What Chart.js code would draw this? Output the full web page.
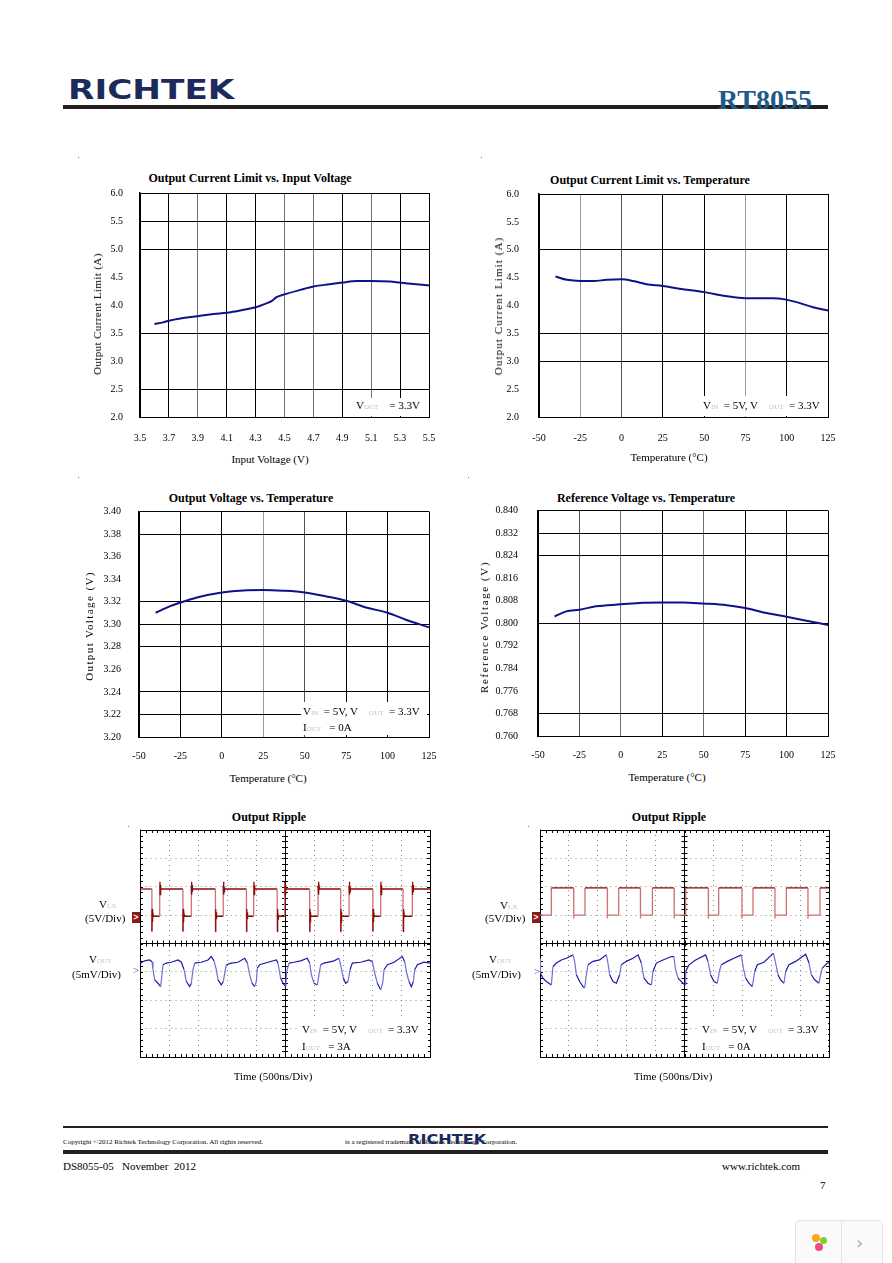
<!DOCTYPE html>
<html>
<head>
<meta charset="utf-8">
<script src="https://cdn.jsdelivr.net/npm/chart.js@4.4.1/dist/chart.umd.min.js"></script>
<style>
body{margin:0;width:892px;height:1263px;background:#fff;position:relative;overflow:hidden;font-family:"Liberation Serif","Times New Roman",serif;color:#000;}
.abs{position:absolute;white-space:nowrap;}
canvas{position:absolute;}
.ttl{position:absolute;white-space:nowrap;font-weight:bold;font-size:12px;transform:translate(-50%,-50%);}
.xt{position:absolute;white-space:nowrap;font-size:11px;transform:translate(-50%,-50%);}
.yt{position:absolute;white-space:nowrap;font-size:11px;transform:translate(-50%,-50%) rotate(-90deg);}
.note{position:absolute;white-space:nowrap;background:#fff;font-size:11px;line-height:13.5px;}
.sub{color:#c4c4c4;font-size:7px;}
.sc{position:absolute;white-space:nowrap;font-size:11px;line-height:14px;}
.mk{position:absolute;width:8px;height:11px;background:#8b1a1a;color:#fff;font:bold 9px "Liberation Sans",sans-serif;line-height:11px;text-align:center;}
.logo{position:absolute;white-space:nowrap;font-family:"DejaVu Sans","Liberation Sans",sans-serif;font-weight:bold;color:#1c2b5c;transform-origin:left center;}
.bar{position:absolute;background:#231f20;}
.dot{position:absolute;width:1px;height:1px;background:#777;}
</style>
</head>
<body>

<!-- header -->
<div class="logo" style="left:68px;top:76px;font-size:27px;line-height:28px;transform:scaleX(1.27);">RICHTEK</div>
<div class="bar" style="left:63px;top:105px;width:765px;height:4px;"></div>
<div class="abs" style="left:718px;top:86px;font-size:28px;line-height:28px;font-weight:bold;color:#1e5a8a;">RT8055</div>

<div class="dot" style="left:78px;top:157px"></div>
<div class="dot" style="left:481px;top:157px"></div>
<div class="dot" style="left:78px;top:477px"></div>
<div class="dot" style="left:468px;top:477px"></div>
<div class="dot" style="left:128px;top:826px"></div>
<div class="dot" style="left:528px;top:826px"></div>

<!-- chart 1 -->
<div class="ttl" style="left:250px;top:178px;">Output Current Limit vs. Input Voltage</div>
<canvas id="c1" width="345" height="270" style="left:100px;top:183px;"></canvas>
<div class="yt" style="left:97px;top:314px;letter-spacing:0.4px;">Output Current Limit (A)</div>
<div class="xt" style="left:270px;top:459px;">Input Voltage (V)</div>
<div class="note" style="left:344px;top:398px;width:84px;height:18px;padding:0;"><span style="position:absolute;left:12px;top:1px;">V<span class="sub">OUT</span>&nbsp;&nbsp;&nbsp; = 3.3V</span></div>

<!-- chart 2 -->
<div class="ttl" style="left:650px;top:180px;">Output Current Limit vs. Temperature</div>
<canvas id="c2" width="345" height="270" style="left:495px;top:184px;"></canvas>
<div class="yt" style="left:498px;top:306px;letter-spacing:1.1px;">Output Current Limit (A)</div>
<div class="xt" style="left:669px;top:457px;">Temperature (°C)</div>
<div class="note" style="left:700px;top:396px;width:127px;height:20px;"><span style="position:absolute;left:3px;top:3px;">V<span class="sub">IN</span>&nbsp; = 5V, V&nbsp;&nbsp;&nbsp;&nbsp;<span class="sub">OUT</span>&nbsp;&nbsp;= 3.3V</span></div>

<!-- chart 3 -->
<div class="ttl" style="left:251px;top:498px;">Output Voltage vs. Temperature</div>
<canvas id="c3" width="345" height="270" style="left:95px;top:501px;"></canvas>
<div class="yt" style="left:89px;top:626px;letter-spacing:1.4px;">Output Voltage (V)</div>
<div class="xt" style="left:268px;top:778px;">Temperature (°C)</div>
<div class="note" style="left:301px;top:702px;width:126px;height:33px;"><div style="position:absolute;left:2px;top:3px;">V<span class="sub">IN</span>&nbsp; = 5V, V&nbsp;&nbsp;&nbsp;&nbsp;<span class="sub">OUT</span>&nbsp;&nbsp;= 3.3V<br>I<span class="sub">OUT</span>&nbsp;&nbsp;&nbsp;= 0A</div></div>

<!-- chart 4 -->
<div class="ttl" style="left:646px;top:498px;">Reference Voltage vs. Temperature</div>
<canvas id="c4" width="350" height="270" style="left:490px;top:500px;"></canvas>
<div class="yt" style="left:484px;top:627px;letter-spacing:1.6px;">Reference Voltage (V)</div>
<div class="xt" style="left:667px;top:777px;">Temperature (°C)</div>

<!-- chart 5 -->
<div class="ttl" style="left:269px;top:817px;">Output Ripple</div>
<canvas id="c5" width="294" height="235" style="left:140px;top:826px;"></canvas>
<div class="sc" style="left:99px;top:897px;">V<span class="sub">LX</span></div>
<div class="sc" style="left:85px;top:911px;">(5V/Div)</div>
<div class="mk" style="left:132px;top:912px;">&gt;</div>
<div class="sc" style="left:89px;top:952px;">V<span class="sub">OUT</span></div>
<div class="sc" style="left:72px;top:967px;">(5mV/Div)</div>
<div class="sc" style="left:133px;top:963px;color:#4040d0;">&gt;</div>
<div class="note" style="left:299px;top:1020px;width:129px;height:34px;"><div style="position:absolute;left:3px;top:2px;line-height:15px;">V<span class="sub">IN</span>&nbsp; = 5V, V&nbsp;&nbsp;&nbsp;&nbsp;<span class="sub">OUT</span>&nbsp;&nbsp;= 3.3V<br>I<span class="sub">OUT</span>&nbsp;&nbsp;&nbsp;= 3A</div></div>
<div class="xt" style="left:273px;top:1076px;">Time (500ns/Div)</div>

<!-- chart 6 -->
<div class="ttl" style="left:669px;top:817px;">Output Ripple</div>
<canvas id="c6" width="293" height="235" style="left:540px;top:826px;"></canvas>
<div class="sc" style="left:500px;top:898px;">V<span class="sub">LX</span></div>
<div class="sc" style="left:485px;top:911px;">(5V/Div)</div>
<div class="mk" style="left:532px;top:912px;">&gt;</div>
<div class="sc" style="left:489px;top:952px;">V<span class="sub">OUT</span></div>
<div class="sc" style="left:472px;top:967px;">(5mV/Div)</div>
<div class="sc" style="left:534px;top:964px;color:#4040d0;">&gt;</div>
<div class="note" style="left:699px;top:1020px;width:129px;height:34px;"><div style="position:absolute;left:3px;top:2px;line-height:15px;">V<span class="sub">IN</span>&nbsp; = 5V, V&nbsp;&nbsp;&nbsp;&nbsp;<span class="sub">OUT</span>&nbsp;&nbsp;= 3.3V<br>I<span class="sub">OUT</span>&nbsp;&nbsp;&nbsp;= 0A</div></div>
<div class="xt" style="left:673px;top:1076px;">Time (500ns/Div)</div>

<!-- footer -->
<div class="bar" style="left:63px;top:1126px;width:765px;height:2px;"></div>
<div class="abs" style="left:63px;top:1138px;font-size:7px;line-height:9px;">Copyright ©2012 Richtek Technology Corporation. All rights reserved.</div>
<div class="abs" style="left:345px;top:1138px;font-size:7px;line-height:9px;">is a registered trademark of Richtek Technology Corporation.</div>
<div class="logo" style="left:408px;top:1132px;font-size:14px;line-height:15px;transform:scaleX(1.15);">RICHTEK</div>
<div class="bar" style="left:63px;top:1150px;width:765px;height:4px;"></div>
<div class="abs" style="left:63px;top:1159px;font-size:11px;line-height:14px;">DS8055-05&nbsp;&nbsp; November&nbsp; 2012</div>
<div class="abs" style="left:722px;top:1159px;font-size:11px;line-height:14px;">www.richtek.com</div>
<div class="abs" style="left:820px;top:1178px;font-size:11px;line-height:14px;">7</div>

<div class="abs" style="left:795px;top:1220px;width:86px;height:46px;border:1px solid #e4e4e4;border-radius:5px;background:#fafafa;"></div>
<div class="abs" style="left:841px;top:1221px;width:1px;height:42px;background:#e4e4e4;"></div>
<div class="abs" style="left:812px;top:1234px;width:8px;height:8px;border-radius:50%;background:#f5a623;"></div>
<div class="abs" style="left:820px;top:1237px;width:7px;height:7px;border-radius:50%;background:#7ed321;"></div>
<div class="abs" style="left:815px;top:1243px;width:8px;height:8px;border-radius:50%;background:#e84c8a;"></div>
<div class="abs" style="left:856px;top:1232px;font:18px 'DejaVu Sans',sans-serif;color:#aaa;">›</div>

<script>
// Output Current Limit vs. Input Voltage
const vinV = [3.60, 3.66, 3.70, 3.78, 3.90, 4.01, 4.10, 4.21, 4.30, 4.375, 4.41, 4.445, 4.50, 4.61, 4.70, 4.81, 4.90, 5.00, 5.10, 5.23, 5.30, 5.41, 5.50];
const ilimVin = [3.66, 3.69, 3.72, 3.76, 3.80, 3.84, 3.86, 3.91, 3.96, 4.03, 4.07, 4.14, 4.19, 4.27, 4.33, 4.37, 4.40, 4.43, 4.43, 4.42, 4.40, 4.37, 4.35];

// Output Current Limit vs. Temperature
const tempIlim = [-40, -33, -25, -17, -9, 0, 7, 15, 25, 35, 50, 63, 75, 84, 92, 99, 106, 116, 125];
const ilimTemp = [4.52, 4.46, 4.44, 4.44, 4.46, 4.47, 4.44, 4.38, 4.35, 4.30, 4.24, 4.17, 4.13, 4.13, 4.13, 4.11, 4.06, 3.97, 3.91];

// Output Voltage vs. Temperature
const tempVout = [-40, -31.5, -25, -15, 0, 13, 25, 37, 50, 63, 75, 87, 100, 111, 125];
const voutTemp = [3.3102, 3.3158, 3.3193, 3.3238, 3.3282, 3.3300, 3.3303, 3.3297, 3.3282, 3.3247, 3.3208, 3.3149, 3.3102, 3.3040, 3.2972];

// Reference Voltage vs. Temperature
const tempVref = [-40, -33, -25, -15, 0, 13, 25, 37.5, 50, 64, 75, 88, 100, 112, 125];
const vrefTemp = [0.8024, 0.8042, 0.8048, 0.8060, 0.8067, 0.8073, 0.8074, 0.8074, 0.8070, 0.8064, 0.8054, 0.8036, 0.8023, 0.8009, 0.7994];

// Output Ripple, IOUT = 3A (time in ns, VLX in V, VOUT ripple in mV)
const lxFallA = [205, 740, 1300, 1835, 2365, 2925, 3460, 4015, 4535];
const lxRiseA = [340, 885, 1435, 1960, 2495, 3070, 3605, 4150, 4695];
const lxLevelsA = { high: 4.6, low: -0.2, dip: -2.9, peak: 5.2, startHigh: true };
const ringA = [1.3, -1.0, 0.7, -0.5, 0.3];
const rippleTA = [0, 11, 80, 167, 207, 224, 253, 310, 356, 379, 397, 454, 540, 655, 713, 759, 799, 856, 885, 914, 943, 1057, 1172, 1230, 1276, 1316, 1345, 1402, 1437, 1471, 1488, 1575, 1690, 1805, 1851, 1891, 1931, 1977, 2006, 2023, 2063, 2207, 2350, 2379, 2425, 2465, 2512, 2529, 2569, 2655, 2770, 2885, 2925, 2954, 3000, 3058, 3086, 3115, 3173, 3345, 3431, 3471, 3506, 3546, 3586, 3621, 3661, 3805, 3949, 4006, 4046, 4092, 4150, 4184, 4207, 4265, 4380, 4523, 4563, 4598, 4638, 4678, 4713, 4736, 4782, 4897, 5000];
const rippleA = [1.4, 1.55, 1.95, 2.1, 1.8, 0.4, -1.4, -2.0, -2.6, -0.5, 1.25, 1.55, 1.7, 2.1, 1.7, 0.4, -1.7, -2.6, -2.0, 0.4, 1.55, 1.7, 2.1, 2.7, 1.95, 0.4, -1.4, -2.3, -1.7, 0.4, 1.25, 1.55, 1.7, 2.4, 1.55, -0.5, -2.0, -2.6, -1.7, 0.65, 1.25, 1.7, 2.1, 1.55, -1.1, -2.0, -2.6, 0.07, 1.55, 1.7, 1.95, 2.4, 1.55, -0.5, -2.0, -2.3, -0.5, 1.25, 1.55, 1.95, 2.4, 0.65, -1.1, -2.0, -1.7, 0.37, 1.55, 1.7, 2.1, 1.8, -0.2, -2.0, -3.15, -2.0, 0.37, 1.25, 1.7, 2.7, 1.8, -0.2, -1.7, -2.6, -1.7, 0.37, 1.25, 1.7, 1.55];

// Output Ripple, IOUT = 0A
const lxFallB = [582, 1165, 1737, 2320, 2912, 3494, 4065, 4636];
const lxRiseB = [196, 778, 1361, 1945, 2520, 3091, 3685, 4262, 4844];
const lxLevelsB = { high: 4.8, low: 0, dip: -0.6, peak: 4.8, startHigh: false };
const ringB = [];
const rippleTB = [0, 8, 52, 110, 196, 225, 283, 369, 456, 571, 600, 629, 686, 744, 773, 802, 830, 917, 1032, 1148, 1176, 1205, 1263, 1321, 1378, 1407, 1494, 1609, 1696, 1753, 1799, 1868, 1926, 1955, 2013, 2128, 2272, 2318, 2341, 2387, 2474, 2514, 2520, 2578, 2693, 2866, 2906, 2952, 3010, 3068, 3102, 3137, 3241, 3356, 3483, 3518, 3558, 3616, 3673, 3714, 3760, 3875, 4037, 4071, 4117, 4163, 4221, 4250, 4308, 4423, 4596, 4654, 4694, 4752, 4827, 4855, 4884, 4971, 5000];
const rippleB = [2.4, -0.3, -1.1, -1.7, -2.3, 0.95, 1.55, 2.1, 2.4, 3.0, 1.85, -0.5, -1.7, -2.6, -2.85, -0.5, 1.25, 1.85, 2.1, 3.0, 1.55, -0.5, -1.7, -2.0, -0.5, 1.25, 1.85, 2.4, 3.0, 1.55, -1.1, -2.0, -2.3, 0.07, 1.55, 2.1, 2.7, 2.7, 0.65, -1.1, -2.0, -2.3, 0.07, 1.25, 2.1, 3.0, 1.85, -0.5, -1.7, -2.0, 0.07, 1.25, 1.85, 2.4, 3.0, 0.65, -1.1, -2.0, -2.6, 0.07, 1.25, 1.7, 3.3, 1.85, -0.5, -1.4, -2.0, 0.07, 1.25, 1.85, 3.1, 1.55, -0.5, -1.4, -2.0, -0.5, 0.65, 1.55, 1.6];

const K = '#000', G = '#707070', LG = '#9a9a9a', DG = '#505050';
const NAVY = '#10108a';
const tickFont = { family: 'Liberation Serif', size: 10 };

// gridline colours keyed by tick label (scanned charts skip some lines)
const gridCol = (map, dec) => c => {
    if (!c.tick) return K;
    return map[c.tick.value.toFixed(dec)] || 'rgba(0,0,0,0)';
};

const xyChart = (id, xs, ys, o) => new Chart(document.getElementById(id), {
    type: 'line',
    data: {
        datasets: [{
            data: xs.map((x, i) => ({ x, y: ys[i] })),
            borderColor: NAVY, borderWidth: 2, pointRadius: 0,
            cubicInterpolationMode: 'monotone'
        }]
    },
    options: {
        responsive: false, animation: false, events: [],
        layout: { padding: { top: o.padTop, right: o.padRight, left: 0, bottom: 0 } },
        plugins: { legend: { display: false }, tooltip: { enabled: false } },
        scales: {
            x: {
                type: 'linear', min: o.x[0], max: o.x[1],
                afterFit: s => { s.height = o.xH; s.paddingLeft = 0; s.paddingRight = 0; },
                ticks: { stepSize: o.x[2], autoSkip: false, maxRotation: 0, padding: o.xPad, font: tickFont, color: K,
                    callback: v => v.toFixed(o.x[3]) },
                grid: { drawTicks: false, color: gridCol(o.xGrid, o.x[3]) },
                border: { color: K }
            },
            y: {
                type: 'linear', min: o.y[0], max: o.y[1],
                afterFit: s => { s.width = o.yW; s.paddingTop = 0; s.paddingBottom = 0; },
                ticks: { stepSize: o.y[2], autoSkip: false, padding: o.yPad, font: tickFont, color: K,
                    callback: v => v.toFixed(o.y[3]) },
                grid: { drawTicks: false, color: gridCol(o.yGrid, o.y[3]) },
                border: { color: K, width: 1.5 }
            }
        }
    }
});

xyChart('c1', vinV, ilimVin, {
    x: [3.5, 5.5, 0.2, 1], y: [2, 6, 0.5, 1], yW: 40, xH: 36, padTop: 10, padRight: 16, xPad: 15, yPad: 17,
    xGrid: { '3.5': K, '3.7': K, '3.9': G, '4.1': K, '4.3': K, '4.5': G, '4.7': G, '4.9': K, '5.1': G, '5.3': K, '5.5': K },
    yGrid: { '2.0': K, '2.5': K, '3.5': K, '5.0': K, '5.5': K, '6.0': K }
});
xyChart('c2', tempIlim, ilimTemp, {
    x: [-50, 125, 25, 0], y: [2, 6, 0.5, 1], yW: 44, xH: 37, padTop: 10, padRight: 12, xPad: 15, yPad: 20,
    xGrid: { '-50': K, '-25': LG, '0': DG, '25': K, '50': K, '75': LG, '100': K, '125': K },
    yGrid: { '2.0': K, '3.0': K, '3.5': K, '5.0': K, '6.0': K }
});
xyChart('c3', tempVout, voutTemp, {
    x: [-50, 125, 25, 0], y: [3.2, 3.4, 0.02, 2], yW: 44, xH: 34, padTop: 10.5, padRight: 11, xPad: 13, yPad: 18,
    xGrid: { '-50': K, '-25': K, '0': K, '25': LG, '50': DG, '75': K, '100': K, '125': K },
    yGrid: { '3.20': K, '3.22': K, '3.24': K, '3.28': K, '3.30': K, '3.32': K, '3.38': K, '3.40': K }
});
xyChart('c4', tempVref, vrefTemp, {
    x: [-50, 125, 25, 0], y: [0.76, 0.84, 0.008, 3], yW: 48, xH: 34, padTop: 10.5, padRight: 12, xPad: 13, yPad: 20,
    xGrid: { '-50': K, '-25': DG, '0': G, '25': K, '50': G, '75': K, '100': K, '125': K },
    yGrid: { '0.760': K, '0.768': K, '0.800': K, '0.824': K, '0.832': K, '0.840': K }
});

// switching node trace from the edge times
const buildLx = (falls, rises, lv, ring) => {
    const ev = falls.map(t => [t, 'f']).concat(rises.map(t => [t, 'r'])).sort((a, b) => a[0] - b[0]);
    let level = lv.startHigh ? lv.high : lv.low;
    const pts = [{ x: 0, y: level }];
    ev.forEach(([t, k]) => {
        if (k === 'f') {
            pts.push({ x: t, y: lv.high }, { x: t, y: lv.dip });
            ring.forEach((r, i) => pts.push({ x: t + 4 * (i + 1), y: lv.low + r }));
            level = lv.low;
        } else {
            pts.push({ x: t, y: lv.low }, { x: t, y: lv.peak });
            ring.forEach((r, i) => pts.push({ x: t + 4 * (i + 1), y: lv.high + r }));
            level = lv.high;
        }
        pts.push({ x: t + 4 * (ring.length + 1), y: level });
    });
    pts.push({ x: 5000, y: level });
    return pts;
};

// scope graticule: minor ticks on the centre cross and the frame
const graticule = {
    id: 'graticule',
    beforeDatasetsDraw(chart) {
        const { ctx, chartArea: a, scales: { x, y } } = chart;
        const cx = x.getPixelForValue(2500), cy = y.getPixelForValue(-5);
        ctx.save();
        ctx.strokeStyle = K; ctx.lineWidth = 1;
        ctx.beginPath();
        for (let t = 0; t <= 5000; t += 100) {
            const px = Math.round(x.getPixelForValue(t)) + 0.5;
            ctx.moveTo(px, cy - 3); ctx.lineTo(px, cy + 3);
            ctx.moveTo(px, a.top); ctx.lineTo(px, a.top + 3);
            ctx.moveTo(px, a.bottom); ctx.lineTo(px, a.bottom - 3);
        }
        for (let v = -25; v <= 15; v += 1) {
            const py = Math.round(y.getPixelForValue(v)) + 0.5;
            ctx.moveTo(cx - 3, py); ctx.lineTo(cx + 3, py);
            ctx.moveTo(a.left, py); ctx.lineTo(a.left + 3, py);
            ctx.moveTo(a.right, py); ctx.lineTo(a.right - 3, py);
        }
        ctx.stroke();
        ctx.restore();
    }
};

const scopeGrid = centre => ({
    color: c => (!c.tick || [centre].concat(c.scale.min, c.scale.max).includes(c.tick.value)) ? K : '#8a8a8a',
    drawTicks: false
});
const scopeDash = centre => c => (!c.tick || [centre].concat(c.scale.min, c.scale.max).includes(c.tick.value)) ? [] : [1, 4];

const scopeChart = (id, lxPts, tt, mv, lightLow) => new Chart(document.getElementById(id), {
    type: 'line',
    data: {
        datasets: [{
            data: lxPts, yAxisID: 'y', borderColor: '#8b0a0a', borderWidth: 1.3, pointRadius: 0, tension: 0,
            segment: {
                borderColor: c => {
                    if (c.p0.parsed.x === c.p1.parsed.x) return '#cc7373';
                    if (lightLow && c.p0.parsed.y < 2 && c.p1.parsed.y < 2) return '#cc7373';
                    return '#8b0a0a';
                }
            }
        }, {
            data: tt.map((x, i) => ({ x, y: mv[i] })), yAxisID: 'y2', borderColor: '#1a1aa8', borderWidth: 1.2, pointRadius: 0, tension: 0,
            segment: {
                borderColor: c => Math.abs(c.p1.parsed.y - c.p0.parsed.y) / Math.max(1, c.p1.parsed.x - c.p0.parsed.x) > 0.03 ? '#6f6fd8' : '#1a1aa8'
            }
        }]
    },
    options: {
        responsive: false, animation: false, events: [],
        layout: { padding: { top: 4, right: 4, bottom: 4, left: 0 } },
        plugins: { legend: { display: false }, tooltip: { enabled: false } },
        scales: {
            x: {
                type: 'linear', min: 0, max: 5000,
                afterFit: s => { s.height = 0; s.paddingLeft = 0; s.paddingRight = 0; },
                ticks: { display: false, stepSize: 500 },
                grid: scopeGrid(2500),
                border: { color: K, width: 1, dash: scopeDash(2500) }
            },
            y: {
                type: 'linear', min: -25, max: 15,
                afterFit: s => { s.width = 0; s.paddingTop = 0; s.paddingBottom = 0; },
                ticks: { display: false, stepSize: 5 },
                grid: scopeGrid(-5),
                border: { color: K, width: 1.5, dash: scopeDash(-5) }
            },
            y2: { type: 'linear', display: false, min: -15, max: 25 }
        }
    },
    plugins: [graticule]
});

scopeChart('c5', buildLx(lxFallA, lxRiseA, lxLevelsA, ringA), rippleTA, rippleA, false);
scopeChart('c6', buildLx(lxFallB, lxRiseB, lxLevelsB, ringB), rippleTB, rippleB, true);
</script>
</body>
</html>
